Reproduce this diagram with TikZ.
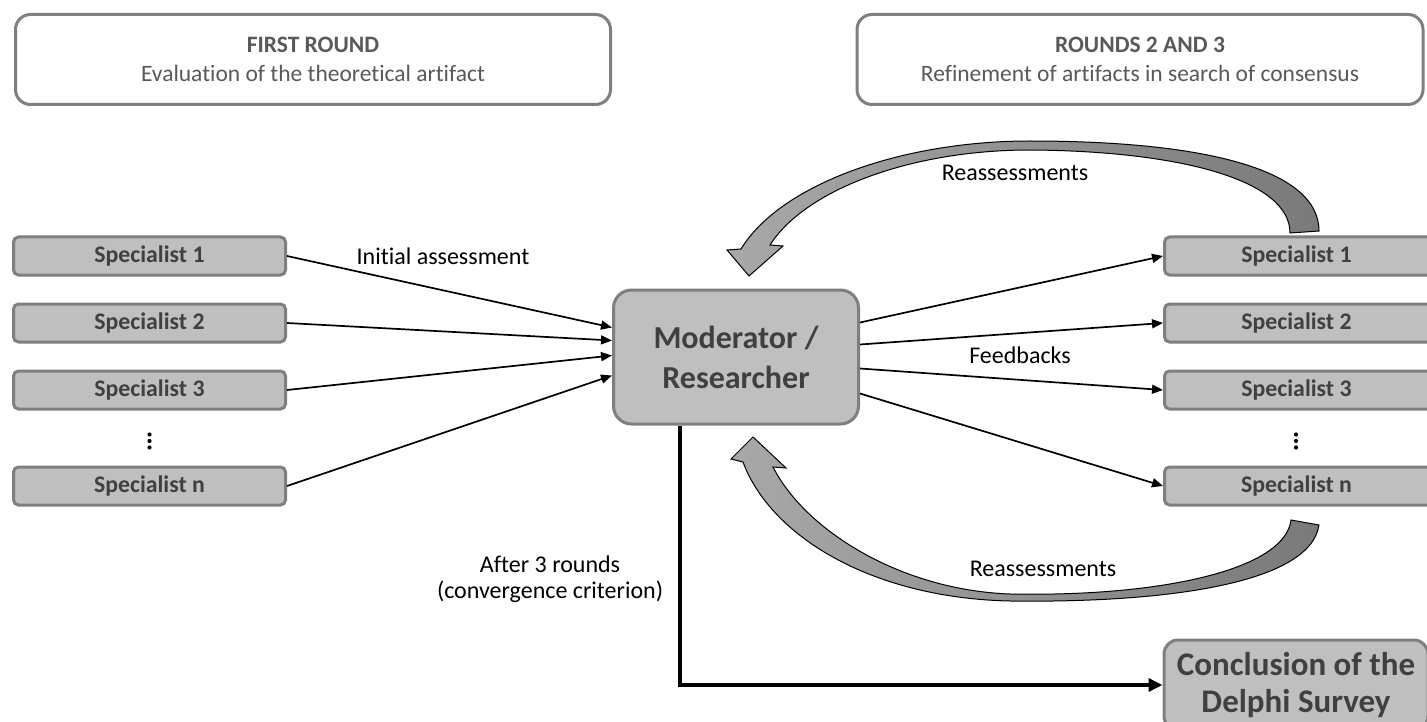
\documentclass[tikz,border=0pt]{standalone}
\usepackage{fontspec}
\setmainfont{Carlito}[Ligatures=NoCommon]
\usetikzlibrary{arrows.meta,calc}
\definecolor{boxfill}{HTML}{BFBFBF}
\definecolor{boxborder}{HTML}{7F7F7F}
\definecolor{textdark}{HTML}{404040}
\definecolor{textmid}{HTML}{595959}
\definecolor{arrowlight}{HTML}{A8A8A8}
\definecolor{arrowdark}{HTML}{7A7A7A}
\tikzset{
  roundbox/.style={draw=boxborder, line width=3pt, fill=white, rounded corners=15pt,
    align=center, text=textmid, font=\fontsize{23.5}{29}\selectfont, inner sep=0pt},
  specbox/.style={draw=boxborder, line width=3pt, fill=boxfill, rounded corners=5pt,
    minimum width=272pt, minimum height=38pt, inner sep=0pt,
    font=\bfseries\fontsize{23.8}{26}\selectfont, text=textdark},
  bigbox/.style={draw=boxborder, line width=3pt, fill=boxfill, rounded corners=18pt,
    align=center, inner sep=0pt, text=textdark},
  lbl/.style={font=\fontsize{24}{26}\selectfont, text=black, inner sep=1pt, align=center},
  conn/.style={line width=1.7pt, -{Triangle[length=11pt,width=9pt]}},
  bigconn/.style={line width=3.5pt, -{Triangle[length=14pt,width=13pt]}},
  dotsnode/.style={minimum size=1pt, inner sep=0pt},
  blockarrow/.style={draw=black, line width=1pt, left color=arrowlight, right color=arrowdark, line join=miter},
}
\begin{document}
\begin{tikzpicture}[x=1pt,y=-1pt]
\useasboundingbox (0,0) rectangle (1427,722);
\fill[white] (0,0) rectangle (1427,722);

% top boxes
\node[roundbox, minimum width=595pt, minimum height=90pt] (round1) at (313,59.5)
  {\textbf{FIRST ROUND}\\Evaluation of the theoretical artifact};
\node[roundbox, minimum width=566pt, minimum height=90pt] (round23) at (1140,59.5)
  {\textbf{ROUNDS 2 AND 3}\\Refinement of artifacts in search of consensus};

% left specialists
\node[specbox] (l1) at (149.5,256) {Specialist 1};
\node[specbox] (l2) at (149.5,323) {Specialist 2};
\node[specbox] (l3) at (149.5,390) {Specialist 3};
\node[specbox] (ln) at (149.5,486) {Specialist n};
\node[dotsnode] (ldots) at (149.5,441) {};
\foreach \d in {-6.5,0,6.5} \fill ($(ldots)+(0,\d)$) circle (2.1pt);

% right specialists
\node[specbox] (r1) at (1300.5,256) {\hspace*{-8pt}Specialist 1};
\node[specbox] (r2) at (1300.5,323) {\hspace*{-8pt}Specialist 2};
\node[specbox] (r3) at (1300.5,390) {\hspace*{-8pt}Specialist 3};
\node[specbox] (rn) at (1300.5,486) {\hspace*{-8pt}Specialist n};
\node[dotsnode] (rdots) at (1296,441) {};
\foreach \d in {-6.5,0,6.5} \fill ($(rdots)+(0,\d)$) circle (2.1pt);

% moderator
\node[bigbox, minimum width=245pt, minimum height=134pt,
  font=\bfseries\fontsize{32}{40}\selectfont] (mod) at (736,357) {Moderator /\\Researcher};

% conclusion
\node[bigbox, minimum width=264pt, minimum height=90pt, rounded corners=14pt,
  font=\bfseries\fontsize{33}{37}\selectfont] (concl) at (1296,685) {Conclusion of the\\Delphi Survey};

% connectors: first round
\draw[conn] (l1.east) -- ([yshift=29.5pt]mod.west);
\draw[conn] (l2.east) -- ([yshift=16.5pt]mod.west);
\draw[conn] (l3.east) -- ([yshift=1.5pt]mod.west);
\draw[conn] (ln.east) -- ([yshift=-18.5pt]mod.west);

% feedbacks
\draw[conn] ([yshift=34.5pt]mod.east) -- (r1.west);
\draw[conn] ([yshift=12.5pt]mod.east) -- (r2.west);
\draw[conn] ([yshift=-11.5pt]mod.east) -- (r3.west);
\draw[conn] ([yshift=-36.5pt]mod.east) -- (rn.west);

% conclusion path
\draw[bigconn] ([xshift=-56pt]mod.south) |- (concl.west);

% labels
\node[lbl] (lblinit) at (443,256) {Initial assessment};
\node[lbl] (lblfeed) at (1020,355) {Feedbacks};
\node[lbl] (lblafter) at (550,579) {After 3 rounds\\(convergence criterion)};

% top block arrow (reassessments)
\path[blockarrow] (1290,233) -- (1319,231)
  .. controls (1319,168) and (1200,141) .. (1030,141)
  .. controls (900,141) and (780,185) .. (741,249)
  -- (727,250) -- (749,276) -- (783,246) -- (770,245)
  .. controls (805,190) and (910,150) .. (1030,150)
  .. controls (1180,151) and (1290,180) .. cycle;
\node[lbl] (lblre1) at (1015,173) {Reassessments};

% bottom block arrow (reassessments)
\path[blockarrow] (1291,520) -- (1319,525)
  .. controls (1310,585) and (1160,603) .. (1010,601)
  .. controls (870,598) and (770,535) .. (743,462)
  -- (731,459) -- (753,437) -- (786,468) -- (773,467)
  .. controls (805,530) and (900,590) .. (1010,594)
  .. controls (1160,597) and (1285,570) .. cycle;
\node[lbl] (lblre2) at (1043,569) {Reassessments};
\end{tikzpicture}
\end{document}
